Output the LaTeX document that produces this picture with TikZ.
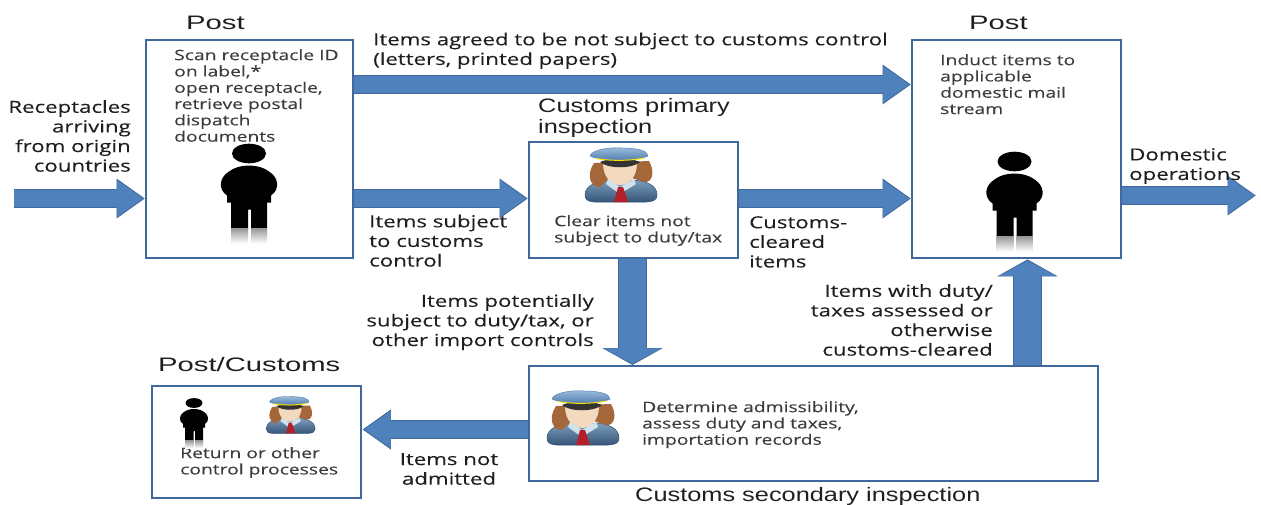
\documentclass[tikz,border=0pt]{standalone}
\usepackage{fontspec}
\setmainfont{Open Sans}
\newfontfamily\bodyf[FakeStretch=1.34,FakeBold=0.15]{Open Sans}
\newfontfamily\titlef[FakeStretch=1.30]{Liberation Sans}
\newfontfamily\posttitlef[FakeStretch=1.5]{Liberation Sans}
\usetikzlibrary{arrows.meta}
\definecolor{blockblue}{HTML}{4F81BD}
\definecolor{boxedge}{HTML}{41689A}
\definecolor{labeltext}{HTML}{1F1F1F}
\definecolor{smalltext}{HTML}{3C3C3C}
\definecolor{coatlight}{HTML}{7C9DBB}
\definecolor{coatdark}{HTML}{2F4F73}
\definecolor{hairbrown}{HTML}{A5673A}
\definecolor{skin}{HTML}{F3D9BE}
\definecolor{collar}{HTML}{CFE3EE}
\definecolor{tiered}{HTML}{B3202A}
\definecolor{hatlight}{HTML}{9CBEDD}
\definecolor{hatdark}{HTML}{4A76A8}
\tikzset{
  boxnode/.style={draw=boxedge,line width=2.4pt,fill=white,inner sep=0pt,anchor=north west},
  blockarrow/.style={draw=blockblue,line width=17pt,shorten >=1.6pt,-{Triangle[length=26.5pt,width=35pt]},
    preaction={draw=boxedge,line width=19pt,shorten >=0pt,-{Triangle[length=28.5pt,width=38pt]}}},
  widearrow/.style={draw=blockblue,line width=27.5pt,shorten >=1.2pt,-{Triangle[length=15.5pt,width=57pt]}
    ,preaction={draw=boxedge,line width=29.5pt,shorten >=0pt,-{Triangle[length=17pt,width=60pt]}}},
  titletext/.style={font=\titlef\fontsize{19.5}{21}\selectfont,text=labeltext,inner sep=0pt,align=left},
  posttitle/.style={font=\posttitlef\fontsize{19.5}{21}\selectfont,text=labeltext,inner sep=0pt,align=left},
  labeltxt/.style={font=\bodyf\fontsize{16.6}{19.6}\selectfont,text=labeltext,inner sep=0pt},
  smalltxt/.style={font=\bodyf\fontsize{14.4}{16.3}\selectfont,text=smalltext,inner sep=0pt,align=left},
  person/.pic={
    \fill[black] (0,0) circle[x radius=17,y radius=9.8];
    \fill[black] (-22,49) -- (-22,42) .. controls (-31,36) and (-30,24) .. (-20,18)
      .. controls (-10,10) and (10,10) .. (20,18) .. controls (30,24) and (31,36) .. (22,42)
      -- (22,49) -- (18,49) -- (18,75) -- (2,75) -- (2,56) -- (-1,56) -- (-1,75) -- (-18,75) -- (-18,49) -- cycle;
    \shade[top color=black!40,bottom color=white] (-18,75) rectangle (-1,90);
    \shade[top color=black!40,bottom color=white] (2,75) rectangle (18,90);
  },
  officer/.pic={
    \shade[top color=coatlight,bottom color=coatdark,draw=coatdark,line width=.5pt]
      (-35,20) .. controls (-35,10) and (-22,6) .. (-12,5) -- (14,5)
      .. controls (26,6) and (37,10) .. (37,20) .. controls (37,29) and (25,27) .. (0,27)
      .. controls (-25,27) and (-35,29) .. (-35,20) -- cycle;
    \fill[hairbrown] (-26,-12) .. controls (-34,0) and (-30,12) .. (-20,12)
      -- (-10,3) -- (12,3) -- (24,7) .. controls (33,8) and (35,-4) .. (29,-14) -- cycle;
    \fill[skin] (-17,-12) -- (17,-12) .. controls (17,2) and (9,10) .. (0,10)
      .. controls (-9,10) and (-17,2) .. (-17,-12) -- cycle;
    \fill[collar] (-12,4) -- (0,12) -- (14,4) -- (16,9) -- (3,17) -- (-3,17) -- (-14,9) -- cycle;
    \fill[tiered] (-2,12) -- (3,12) -- (8,27) -- (-6,27) -- cycle;
    \fill[black!80] (-20,-13) .. controls (-8,-18) and (8,-18) .. (20,-13)
      .. controls (12,-6) and (-12,-6) .. (-20,-13) -- cycle;
    \shade[top color=hatlight,bottom color=hatdark,draw=hatdark,line width=.4pt] (-30,-19)
      .. controls (-28,-26) and (-8,-28) .. (3,-27) .. controls (18,-27) and (28,-24) .. (28,-19)
      .. controls (18,-14) and (-18,-13) .. (-30,-19) -- cycle;
    \draw[yellow!85!orange,line width=1pt] (-24,-16.5) .. controls (-10,-14) and (10,-14) .. (24,-17);
  }
}
\begin{document}
\begin{tikzpicture}[x=1pt,y=-1pt]
\useasboundingbox (0,0) rectangle (1261,504);
% boxes
\node[boxnode,minimum width=207pt,minimum height=218pt] (postA) at (145,39) {};
\node[boxnode,minimum width=209pt,minimum height=116pt] (primary) at (528,141) {};
\node[boxnode,minimum width=209pt,minimum height=218pt] (postB) at (911,39) {};
\node[boxnode,minimum width=569pt,minimum height=115pt] (secondary) at (528,365) {};
\node[boxnode,minimum width=209pt,minimum height=112pt] (returnbox) at (151,385) {};
\coordinate (origin) at (14,198.5);
\coordinate (domestic) at (1256,195.5);
% arrows
\draw[blockarrow] (origin) -- (postA.west |- origin);
\draw[blockarrow] (postA.east |- 0,84.5) -- (postB.west |- 0,84.5);
\draw[blockarrow] (postA.east |- 0,198.5) -- (primary.west |- 0,198.5);
\draw[blockarrow] (primary.east |- 0,198.5) -- (postB.west |- 0,198.5);
\draw[blockarrow] (postB.east |- domestic) -- (domestic);
\draw[blockarrow] (secondary.west |- 0,429.5) -- (returnbox.east |- 0,429.5);
\draw[widearrow] (632.5,0 |- primary.south) -- (632.5,0 |- secondary.north);
\draw[widearrow] (1027.5,0 |- secondary.north) -- (1027.5,0 |- postB.south);
% titles
\node[posttitle,anchor=west] (t1) at (186,23) {Post};
\node[posttitle,anchor=west] (t2) at (969,23) {Post};
\node[titletext,anchor=north west] (t3) at (538,98) {Customs primary\\inspection};
\node[posttitle,anchor=west] (t4) at (158,365) {Post/Customs};
\node[titletext,anchor=west] (t5) at (635,496) {Customs secondary inspection};
% labels
\node[labeltxt,align=left,anchor=north west] (l1) at (373,32.5) {Items agreed to be not subject to customs control\\(letters, printed papers)};
\node[labeltxt,align=right,anchor=north east] (l2) at (131,100) {Receptacles\\arriving\\from origin\\countries};
\node[labeltxt,align=left,anchor=north west] (l3) at (369,214.5) {Items subject\\to customs\\control};
\node[labeltxt,align=left,anchor=north west] (l4) at (749,216) {Customs-\\cleared\\items};
\node[labeltxt,align=left,anchor=north west] (l5) at (1129,148) {Domestic\\operations};
\node[labeltxt,align=right,anchor=north east] (l6) at (594,294) {Items potentially\\subject to duty/tax, or\\other import controls};
\node[labeltxt,align=right,anchor=north east] (l7) at (993,284) {Items with duty/\\taxes assessed or\\otherwise\\customs-cleared};
\node[labeltxt,align=center,anchor=north] (l8) at (449,453) {Items not\\admitted};
% box texts
\node[smalltxt,anchor=north west] (s1) at (174,49) {Scan receptacle ID\\on label,*\\open receptacle,\\retrieve postal\\dispatch\\documents};
\node[smalltxt,anchor=north west] (s2) at (554,215) {Clear items not\\subject to duty/tax};
\node[smalltxt,anchor=north west] (s3) at (940,54) {Induct items to\\applicable\\domestic mail\\stream};
\node[smalltxt,anchor=north west] (s4) at (642,401) {Determine admissibility,\\assess duty and taxes,\\importation records};
\node[smalltxt,anchor=north west] (s5) at (180,447) {Return or other\\control processes};
% figures
\pic at (249,153.5) {person};
\pic at (1014.5,161.5) {person};
\pic[scale=.5] at (194,403) {person};
\pic at (620,175) {officer};
\pic at (582,418) {officer};
\pic[scale=.68] at (290,415) {officer};
\end{tikzpicture}
\end{document}
